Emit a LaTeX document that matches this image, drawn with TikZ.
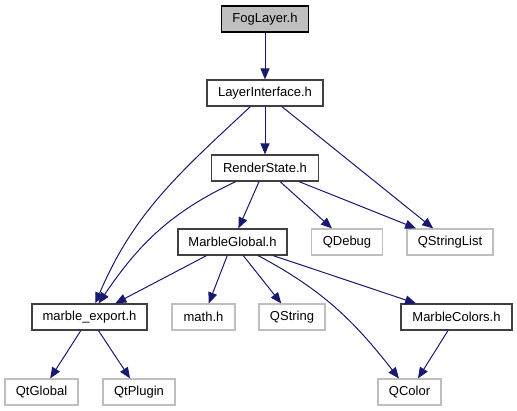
\documentclass[tikz,border=0pt]{standalone}
\usepackage{fontspec}
\setmainfont{Liberation Sans}
\usetikzlibrary{arrows.meta}
\definecolor{dnavy}{HTML}{191970}
\definecolor{dgrey}{HTML}{BFBFBF}
\definecolor{dedge}{HTML}{404040}

\begin{document}
\begin{tikzpicture}[x=1pt, y=1pt,
  hfile/.style={draw=dedge, line width=1.1pt, minimum height=26pt, inner sep=0pt,
    font=\fontsize{13}{15}\selectfont},
  sysfile/.style={hfile, draw=dgrey},
  incl/.style={dnavy, line width=1pt, -{Triangle[length=11pt, width=9pt]}}]
\useasboundingbox (0,0) rectangle (517,411);
% files of the module
\node[hfile, fill=dgrey, draw=black, minimum width=87pt] (fog) at (265,392) {FogLayer.h};
\node[hfile, minimum width=116pt] (li) at (265,318) {LayerInterface.h};
\node[hfile, minimum width=107pt] (rs) at (265,243) {RenderState.h};
\node[hfile, minimum width=109pt] (mg) at (232.5,169) {MarbleGlobal.h};
\node[hfile, minimum width=115pt] (mexp) at (89.5,94) {marble\_export.h};
\node[hfile, minimum width=111pt] (mcol) at (456.5,94) {MarbleColors.h};
% system headers
\node[sysfile, minimum width=71pt] (qdbg) at (347,169) {QDebug};
\node[sysfile, minimum width=86pt] (qsl) at (450,169) {QStringList};
\node[sysfile, minimum width=63pt] (mathh) at (203.5,94) {math.h};
\node[sysfile, minimum width=66pt] (qstr) at (292,94) {QString};
\node[sysfile, minimum width=73pt] (qglob) at (41.5,19) {QtGlobal};
\node[sysfile, minimum width=72pt] (qplug) at (139,19) {QtPlugin};
\node[sysfile, minimum width=63pt] (qcol) at (409.5,19) {QColor};
% include edges
\draw[incl] (fog) -- (li);
\draw[incl] (li) -- (rs);
\draw[incl] (li) to[out=-137, in=67] (mexp);
\draw[incl] (li) -- (qsl);
\draw[incl] (rs) -- (mg);
\draw[incl] (rs) -- (qdbg);
\draw[incl] (rs) -- (qsl);
\draw[incl] (rs) to[out=-155, in=56] (mexp);
\draw[incl] (mg) -- (mexp);
\draw[incl] (mg) -- (mathh);
\draw[incl] (mg) -- (qstr);
\draw[incl] (mg) to[out=-28, in=128] (qcol);
\draw[incl] (mg) -- (mcol);
\draw[incl] (mexp) -- (qglob);
\draw[incl] (mexp) -- (qplug);
\draw[incl] (mcol) -- (qcol);
\end{tikzpicture}
\end{document}
